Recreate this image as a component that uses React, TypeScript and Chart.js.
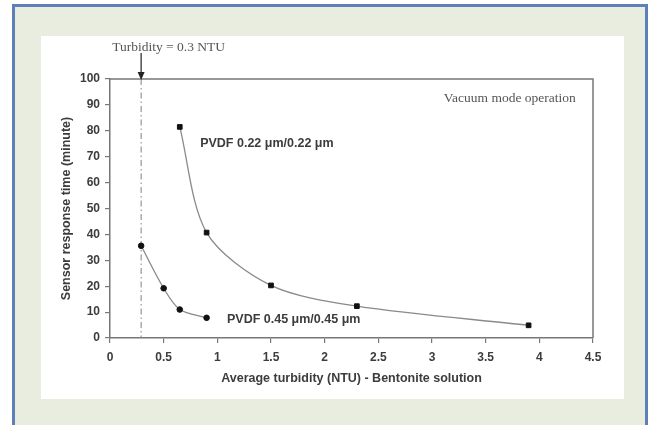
import { useEffect, useRef } from "react";
import { Chart, registerables } from "chart.js";

Chart.register(...registerables);

// ---- data ----
const X_TICKS = [0, 0.5, 1, 1.5, 2, 2.5, 3, 3.5, 4, 4.5];
const Y_TICKS = [0, 10, 20, 30, 40, 50, 60, 70, 80, 90, 100];

const PVDF022_X = [0.65, 0.9, 1.5, 2.3, 3.9];
const PVDF022_Y = [81.5, 40.7, 20.3, 12.3, 4.9];

const PVDF045_X = [0.29, 0.5, 0.65, 0.9];
const PVDF045_Y = [35.6, 19.2, 11.0, 7.8];

const TURBIDITY_LIMIT = 0.29;

const LABEL_022 = "PVDF 0.22 \u03bcm/0.22 \u03bcm";
const LABEL_045 = "PVDF 0.45 \u03bcm/0.45 \u03bcm";
const LABEL_022_POS = [0.84, 75];
const LABEL_045_POS = [1.09, 7.2];
const NOTE = "Vacuum mode operation";
const NOTE_POS = [4.34, 92.3];
const LIMIT_LABEL = "Turbidity = 0.3 NTU";
const X_TITLE = "Average turbidity (NTU) - Bentonite solution";
const Y_TITLE = "Sensor response time (minute)";

const SANS = "'Liberation Sans', Arial, sans-serif";
const SERIF = "'Liberation Serif', 'Times New Roman', serif";
const AXIS_COLOR = "#777";
const TEXT_COLOR = "#3c3c3c";

const decorPlugin = {
  id: "decor",
  beforeDraw(chart: any) {
    const { ctx, width, height } = chart;
    ctx.save();
    ctx.fillStyle = "#ffffff";
    ctx.fillRect(0, 0, width, height);
    ctx.fillStyle = "#e9eddf";
    ctx.fillRect(14, 6, 632, height - 6);
    ctx.fillStyle = "#ffffff";
    ctx.fillRect(41, 36, 583, 363);
    ctx.strokeStyle = "#5d81b6";
    ctx.lineWidth = 3;
    ctx.beginPath();
    ctx.moveTo(13.5, height);
    ctx.lineTo(13.5, 5.5);
    ctx.lineTo(646.5, 5.5);
    ctx.lineTo(646.5, height);
    ctx.stroke();
    ctx.restore();
  },
  beforeDatasetsDraw(chart: any) {
    const { ctx, chartArea, scales } = chart;
    const x = scales.x.getPixelForValue(TURBIDITY_LIMIT);
    ctx.save();
    // dash-dot vertical line
    ctx.strokeStyle = "#808080";
    ctx.lineWidth = 1;
    ctx.setLineDash([6, 3, 1.5, 3]);
    ctx.beginPath();
    ctx.moveTo(x, chartArea.top);
    ctx.lineTo(x, chartArea.bottom);
    ctx.stroke();
    ctx.setLineDash([]);
    // top and right frame
    ctx.strokeStyle = AXIS_COLOR;
    ctx.lineWidth = 1.5;
    ctx.beginPath();
    ctx.moveTo(chartArea.left, chartArea.top);
    ctx.lineTo(chartArea.right, chartArea.top);
    ctx.lineTo(chartArea.right, chartArea.bottom);
    ctx.stroke();
    ctx.restore();
  },
  afterDraw(chart: any) {
    const { ctx, chartArea, scales } = chart;
    const xs = scales.x;
    const ys = scales.y;
    const xl = xs.getPixelForValue(TURBIDITY_LIMIT);
    ctx.save();
    // arrow
    ctx.strokeStyle = "#222";
    ctx.fillStyle = "#222";
    ctx.lineWidth = 1.2;
    ctx.beginPath();
    ctx.moveTo(xl, chartArea.top - 26);
    ctx.lineTo(xl, chartArea.top - 5);
    ctx.stroke();
    ctx.beginPath();
    ctx.moveTo(xl - 3.5, chartArea.top - 7);
    ctx.lineTo(xl + 3.5, chartArea.top - 7);
    ctx.lineTo(xl, chartArea.top + 1);
    ctx.closePath();
    ctx.fill();

    // serif texts
    ctx.fillStyle = "#555";
    ctx.font = `13.5px ${SERIF}`;
    ctx.textBaseline = "middle";
    ctx.textAlign = "left";
    ctx.fillText(LIMIT_LABEL, xl - 29, chartArea.top - 32);
    ctx.textAlign = "right";
    ctx.fillText(NOTE, xs.getPixelForValue(NOTE_POS[0]), ys.getPixelForValue(NOTE_POS[1]));

    // series labels
    ctx.fillStyle = TEXT_COLOR;
    ctx.font = `bold 12.5px ${SANS}`;
    ctx.textAlign = "left";
    ctx.fillText(LABEL_022, xs.getPixelForValue(LABEL_022_POS[0]), ys.getPixelForValue(LABEL_022_POS[1]));
    ctx.fillText(LABEL_045, xs.getPixelForValue(LABEL_045_POS[0]), ys.getPixelForValue(LABEL_045_POS[1]));

    // axis titles
    ctx.textAlign = "center";
    ctx.fillText(X_TITLE, (chartArea.left + chartArea.right) / 2, 379);
    ctx.translate(67, (chartArea.top + chartArea.bottom) / 2);
    ctx.rotate(-Math.PI / 2);
    ctx.fillText(Y_TITLE, 0, 0);
    ctx.restore();
  },
};

export default function App() {
  const canvasRef = useRef<HTMLCanvasElement | null>(null);

  useEffect(() => {
    const canvas = canvasRef.current;
    if (!canvas) return;
    const tickFont = { family: SANS, size: 12, weight: "bold" as const };
    const chart = new Chart(canvas, {
      type: "scatter",
      data: {
        datasets: [
          {
            label: LABEL_022,
            data: PVDF022_X.map((x, i) => ({ x, y: PVDF022_Y[i] })),
            showLine: true,
            borderColor: "#8a8a8a",
            borderWidth: 1.3,
            tension: 0.3,
            pointStyle: "rect",
            pointRadius: 3.3,
            pointBackgroundColor: "#111",
            pointBorderColor: "#111",
            pointBorderWidth: 1,
          },
          {
            label: LABEL_045,
            data: PVDF045_X.map((x, i) => ({ x, y: PVDF045_Y[i] })),
            showLine: true,
            borderColor: "#8a8a8a",
            borderWidth: 1.3,
            tension: 0.3,
            pointStyle: "circle",
            pointRadius: 2.8,
            pointBackgroundColor: "#111",
            pointBorderColor: "#111",
            pointBorderWidth: 1,
          },
        ],
      },
      options: {
        responsive: false,
        animation: false,
        devicePixelRatio: 1,
        layout: { padding: { top: 79, right: 58, bottom: 0, left: 0 } },
        plugins: { legend: { display: false }, tooltip: { enabled: false } },
        scales: {
          x: {
            type: "linear",
            min: 0,
            max: 4.5,
            afterBuildTicks: (s: any) => {
              s.ticks = X_TICKS.map((v) => ({ value: v }));
            },
            afterFit: (s: any) => {
              s.height = 87;
            },
            grid: { drawOnChartArea: false, drawTicks: true, tickLength: 5, color: AXIS_COLOR, lineWidth: 1.2 },
            border: { display: true, color: AXIS_COLOR, width: 1.5 },
            ticks: {
              font: tickFont,
              color: TEXT_COLOR,
              padding: 7,
              maxRotation: 0,
              autoSkip: false,
              callback: (v: any) => String(v),
            },
          },
          y: {
            type: "linear",
            min: 0,
            max: 100,
            afterBuildTicks: (s: any) => {
              s.ticks = Y_TICKS.map((v) => ({ value: v }));
            },
            afterFit: (s: any) => {
              s.width = 110;
            },
            grid: { drawOnChartArea: false, drawTicks: true, tickLength: 5, color: AXIS_COLOR, lineWidth: 1.2 },
            border: { display: true, color: AXIS_COLOR, width: 1.5 },
            ticks: { font: tickFont, color: TEXT_COLOR, padding: 5, autoSkip: false, callback: (v: any) => String(v) },
          },
        },
      } as any,
      plugins: [decorPlugin],
    });
    return () => chart.destroy();
  }, []);

  return (
    <div style={{ position: "absolute", left: 0, top: 0, width: 651, height: 425 }}>
      <canvas ref={canvasRef} width={651} height={425} style={{ display: "block", width: 651, height: 425 }} />
    </div>
  );
}
